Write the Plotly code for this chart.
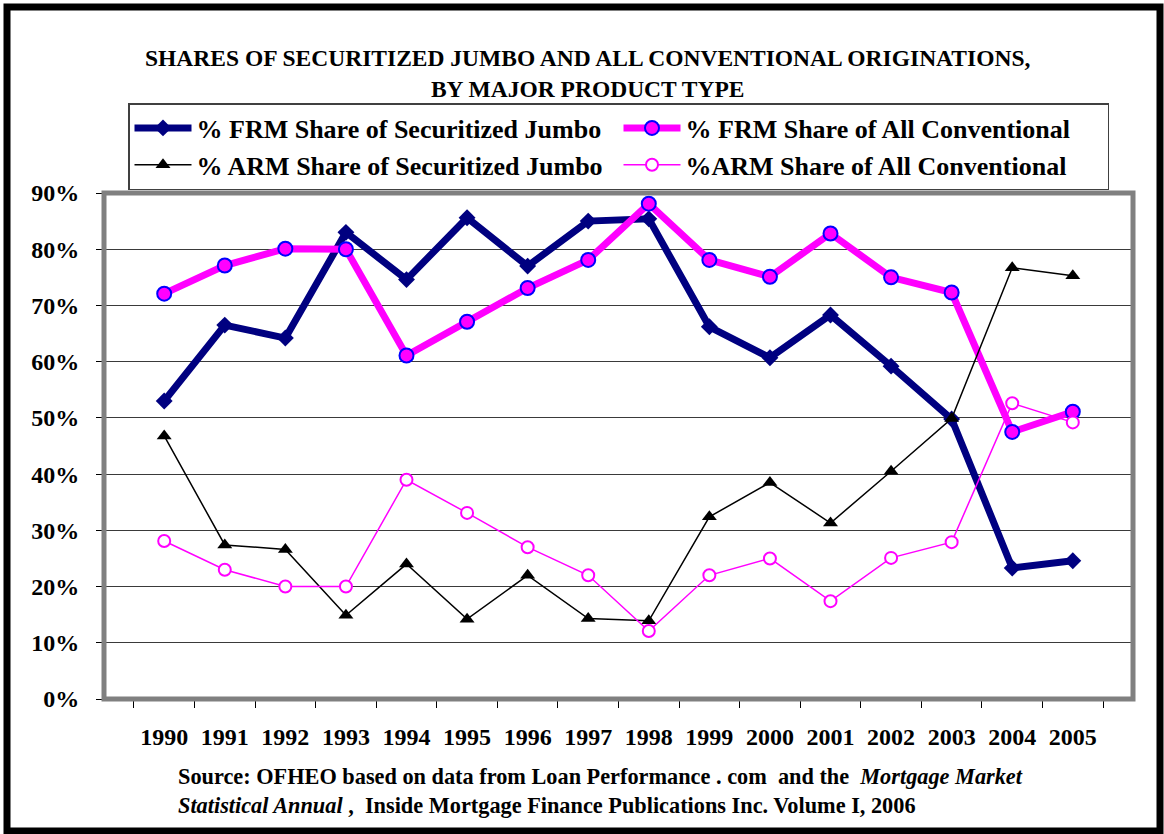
import plotly.graph_objects as go

years = [str(y) for y in range(1990, 2006)]
frm_jumbo = [53.0, 66.5, 64.2, 83.0, 74.6, 85.6, 77.0, 85.0, 85.4, 66.2, 60.7, 68.3, 59.2, 49.8, 23.3, 24.6]
frm_conv = [72.1, 77.1, 80.1, 80.0, 61.1, 67.1, 73.1, 78.1, 88.1, 78.1, 75.1, 82.8, 75.0, 72.3, 47.5, 51.1]
arm_jumbo = [46.8, 27.4, 26.6, 14.9, 24.0, 14.2, 22.0, 14.3, 13.9, 32.4, 38.5, 31.3, 40.5, 49.9, 76.7, 75.3]
arm_conv = [28.1, 23.0, 20.0, 20.0, 39.0, 33.1, 27.0, 22.0, 12.1, 22.0, 25.0, 17.4, 25.1, 27.9, 52.6, 49.2]

names = ["% FRM Share of Securitized Jumbo", "% FRM Share of All Conventional",
         "% ARM Share of Securitized Jumbo", "%ARM Share of All Conventional"]

FONT = "Liberation Serif"

fig = go.Figure()
fig.add_trace(go.Scatter(x=years, y=frm_jumbo, name=names[0], mode="lines+markers",
                         line=dict(color="#000080", width=7),
                         marker=dict(symbol="diamond", size=13, color="#000080")))
fig.add_trace(go.Scatter(x=years, y=frm_conv, name=names[1], mode="lines+markers",
                         line=dict(color="#FF00FF", width=7),
                         marker=dict(symbol="circle", size=14, color="#FF00FF",
                                     line=dict(color="#0000FF", width=2))))
fig.add_trace(go.Scatter(x=years, y=arm_jumbo, name=names[2], mode="lines+markers",
                         line=dict(color="#000000", width=1.5),
                         marker=dict(symbol="triangle-up", size=13, color="#000000")))
fig.add_trace(go.Scatter(x=years, y=arm_conv, name=names[3], mode="lines+markers",
                         line=dict(color="#FF00FF", width=1.5),
                         marker=dict(symbol="circle", size=12, color="#FFFFFF",
                                     line=dict(color="#FF00FF", width=2))))

L, R, T, B = 104, 31, 193, 135
W, H = 1164, 834
pw, ph = W - L - R, H - T - B

def px(x):
    return (x - L) / pw

def py(y):
    return (H - B - y) / ph

fig.update_layout(
    width=W, height=H,
    margin=dict(l=L, r=R, t=T, b=B, pad=0),
    paper_bgcolor="white", plot_bgcolor="white",
    font=dict(family=FONT, color="black"),
    showlegend=True,
    legend=dict(orientation="h", x=px(128), y=py(103), xanchor="left", yanchor="top",
                font=dict(family=FONT, size=26, color="black", weight="bold"),
                bgcolor="white", bordercolor="#404040", borderwidth=1.5,
                entrywidth=417, entrywidthmode="pixels", itemwidth=57,
                traceorder="normal"),
    xaxis=dict(type="category", tickson="boundaries", ticks="outside", ticklen=8,
               tickcolor="black", tickwidth=1, showgrid=False, showline=False, zeroline=False,
               tickfont=dict(family=FONT, size=24, color="black", weight="bold"),
               ticklabelstandoff=21),
    yaxis=dict(range=[0, 90], dtick=10, ticksuffix="%", ticks="outside", ticklen=7,
               tickcolor="black", showgrid=True, gridcolor="#3a3a3a", gridwidth=1.2,
               showline=False, zeroline=False,
               tickfont=dict(family=FONT, size=24, color="black", weight="bold"),
               ticklabelstandoff=12),
)

fig.add_shape(type="rect", xref="paper", yref="paper", x0=0, x1=1, y0=0, y1=1,
              line=dict(color="#808080", width=5), layer="above")
fig.add_shape(type="rect", xref="paper", yref="paper",
              x0=px(7), x1=px(1160), y0=py(831), y1=py(7),
              line=dict(color="black", width=7), layer="above")

fig.add_annotation(xref="paper", yref="paper", x=px(587), y=py(73), xanchor="center", yanchor="middle",
                   text="<b>SHARES OF SECURITIZED JUMBO AND ALL CONVENTIONAL ORIGINATIONS,<br>BY MAJOR PRODUCT TYPE</b>",
                   showarrow=False, align="center",
                   font=dict(family=FONT, size=23.5, color="black"))
fig.add_annotation(xref="paper", yref="paper", x=px(176), y=py(791), xanchor="left", yanchor="middle",
                   text="<b>Source: OFHEO based on data from Loan Performance . com  and the  <i>Mortgage Market</i><br>"
                        "<i>Statistical Annual</i> ,  Inside Mortgage Finance Publications Inc. Volume I, 2006</b>",
                   showarrow=False, align="left",
                   font=dict(family=FONT, size=22.3, color="black"))

fig.write_html("out.html", config={"displayModeBar": False},
               post_script="document.body.style.margin='0';")
